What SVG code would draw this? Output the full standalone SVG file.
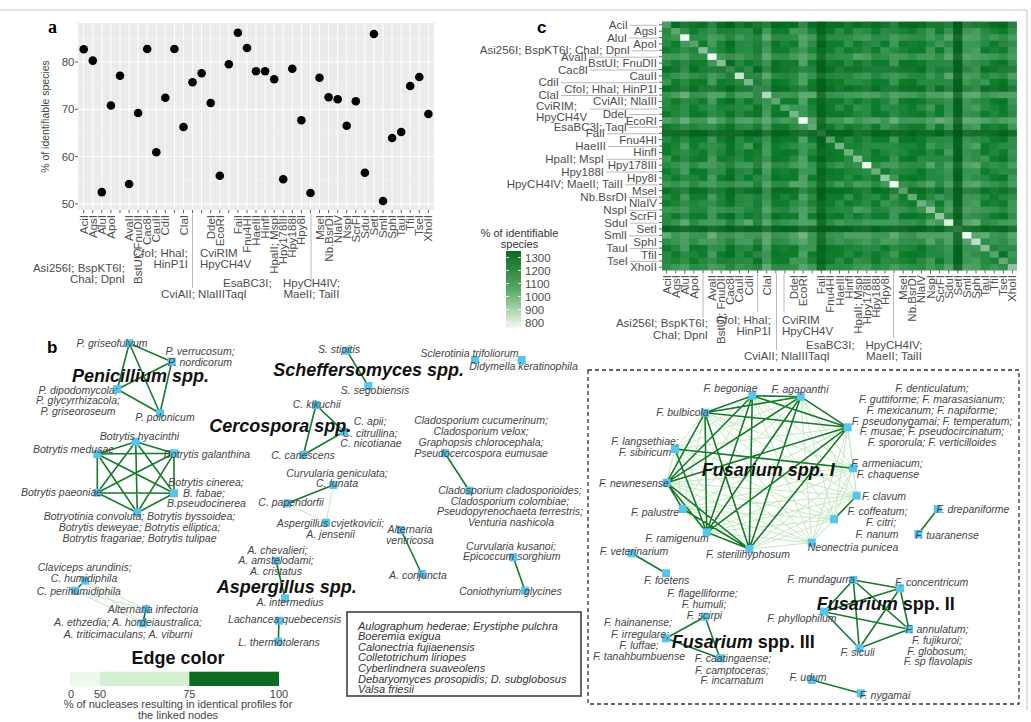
<svg xmlns="http://www.w3.org/2000/svg" width="1031" height="722" viewBox="0 0 1031 722">
<style>
.ax{font-family:"Liberation Sans",Arial,sans-serif;font-size:11.5px;fill:#4d4d4d}
.e{text-anchor:end}
.m{text-anchor:middle}
.lb{font-family:"Liberation Sans",Arial,sans-serif;font-style:italic;font-size:10.5px;fill:#444;text-anchor:middle}
.bx{font-family:"Liberation Sans",Arial,sans-serif;font-style:italic;font-size:11px;fill:#333}
.tt{font-family:"Liberation Sans",Arial,sans-serif;font-weight:bold;font-style:italic;font-size:18px;fill:#111}
.nd{fill:#57c6ee}
.ed{stroke:#167a2a;stroke-width:1.6;fill:none}
.el{stroke:#c4e8c1;stroke-width:1;fill:none}
.tk{stroke:#333;stroke-width:0.8;fill:none}
.ld{stroke:#b0b0b0;stroke-width:0.9;fill:none}
.pl{font-family:"Liberation Sans",Arial,sans-serif;font-weight:bold;font-size:17px;fill:#000}
</style>
<defs>
<pattern id="texA" patternUnits="userSpaceOnUse" width="5" height="3">
<rect x="0" y="0" width="1" height="1" fill="#fff" opacity=".1"/>
<rect x="2" y="0" width="1" height="1" fill="#004a10" opacity=".15"/>
<rect x="4" y="1" width="1" height="1" fill="#fff" opacity=".12"/>
<rect x="1" y="2" width="1" height="1" fill="#fff" opacity=".08"/>
<rect x="3" y="2" width="1" height="1" fill="#004a10" opacity=".1"/>
<rect x="1" y="1" width="1" height="1" fill="#fff" opacity=".05"/>
</pattern>
<pattern id="texB" patternUnits="userSpaceOnUse" width="7" height="4">
<rect x="0" y="1" width="1" height="1" fill="#fff" opacity=".1"/>
<rect x="3" y="0" width="1" height="1" fill="#fff" opacity=".07"/>
<rect x="5" y="2" width="1" height="1" fill="#004a10" opacity=".12"/>
<rect x="2" y="3" width="1" height="1" fill="#fff" opacity=".12"/>
<rect x="6" y="3" width="1" height="1" fill="#fff" opacity=".06"/>
<rect x="4" y="1" width="1" height="1" fill="#004a10" opacity=".08"/>
</pattern>
<linearGradient id="cbar" x1="0" y1="0" x2="0" y2="1">
<stop offset="0" stop-color="#0a6a20"/>
<stop offset="0.5" stop-color="#5aa866"/>
<stop offset="1" stop-color="#f3f9f2"/>
</linearGradient>
</defs>
<rect width="1031" height="722" fill="#fff"/>
<path d="M0 10H1027V710" fill="none" stroke="#c4c4c4" stroke-width="1"/>

<!-- Panel a -->
<g id="panel-a">
<text x="48" y="33" style="font-family:'Liberation Serif',serif;font-weight:bold;font-size:18px">a</text>
<rect x="78" y="23" width="356" height="187" fill="#ebebeb"/>
<path d="M78 38.4H434M78 85.65H434M78 133H434M78 180.3H434" stroke="#f7f7f7" stroke-width="0.5"/>
<path d="M78 62H434M78 109.3H434M78 156.6H434M78 203.9H434" stroke="#fff" stroke-width="1"/>
<path stroke="#fff" stroke-width="1" d="M83.7 23V210M92.8 23V210M101.8 23V210M110.9 23V210M120 23V210M129.1 23V210M138.1 23V210M147.2 23V210M156.3 23V210M165.3 23V210M174.4 23V210M183.5 23V210M192.5 23V210M201.6 23V210M210.7 23V210M219.8 23V210M228.8 23V210M237.9 23V210M247 23V210M256 23V210M265.1 23V210M274.2 23V210M283.2 23V210M292.3 23V210M301.4 23V210M310.5 23V210M319.5 23V210M328.6 23V210M337.7 23V210M346.7 23V210M355.8 23V210M364.9 23V210M373.9 23V210M383 23V210M392.1 23V210M401.2 23V210M410.2 23V210M419.3 23V210M428.4 23V210"/>
<g fill="#000">
<circle cx="83.7" cy="49.2" r="4.3"/><circle cx="92.8" cy="60.6" r="4.3"/><circle cx="101.8" cy="192.1" r="4.3"/><circle cx="110.9" cy="105.5" r="4.3"/><circle cx="120" cy="75.7" r="4.3"/><circle cx="129.1" cy="184" r="4.3"/><circle cx="138.1" cy="113" r="4.3"/><circle cx="147.2" cy="49" r="4.3"/><circle cx="156.3" cy="152.3" r="4.3"/><circle cx="165.3" cy="97.7" r="4.3"/><circle cx="174.4" cy="49" r="4.3"/><circle cx="183.5" cy="127" r="4.3"/><circle cx="192.5" cy="82.3" r="4.3"/><circle cx="201.6" cy="73.3" r="4.3"/><circle cx="210.7" cy="103" r="4.3"/><circle cx="219.8" cy="175.7" r="4.3"/><circle cx="228.8" cy="64.3" r="4.3"/><circle cx="237.9" cy="32.7" r="4.3"/><circle cx="247" cy="48" r="4.3"/><circle cx="256" cy="71.3" r="4.3"/><circle cx="265.1" cy="71.3" r="4.3"/><circle cx="274.2" cy="79.3" r="4.3"/><circle cx="283.2" cy="179.3" r="4.3"/><circle cx="292.3" cy="68.7" r="4.3"/><circle cx="301.4" cy="120.3" r="4.3"/><circle cx="310.5" cy="193" r="4.3"/><circle cx="319.5" cy="77.7" r="4.3"/><circle cx="328.6" cy="97.3" r="4.3"/><circle cx="337.7" cy="99.3" r="4.3"/><circle cx="346.7" cy="125.7" r="4.3"/><circle cx="355.8" cy="101.3" r="4.3"/><circle cx="364.9" cy="172.7" r="4.3"/><circle cx="373.9" cy="34" r="4.3"/><circle cx="383" cy="201" r="4.3"/><circle cx="392.1" cy="138" r="4.3"/><circle cx="401.2" cy="132" r="4.3"/><circle cx="410.2" cy="86" r="4.3"/><circle cx="419.3" cy="77" r="4.3"/><circle cx="428.4" cy="114" r="4.3"/>
</g>
<path class="tk" d="M75 62H78M75 109.3H78M75 156.6H78M75 203.9H78"/>
<path class="tk" d="M83.7 210V213M92.8 210V213M101.8 210V213M110.9 210V213M120 210V213M129.1 210V213M138.1 210V213M147.2 210V213M156.3 210V213M165.3 210V213M174.4 210V213M183.5 210V213M192.5 210V213M201.6 210V213M210.7 210V213M219.8 210V213M228.8 210V213M237.9 210V213M247 210V213M256 210V213M265.1 210V213M274.2 210V213M283.2 210V213M292.3 210V213M301.4 210V213M310.5 210V213M319.5 210V213M328.6 210V213M337.7 210V213M346.7 210V213M355.8 210V213M364.9 210V213M373.9 210V213M383 210V213M392.1 210V213M401.2 210V213M410.2 210V213M419.3 210V213M428.4 210V213"/>
<g class="ax e">
<text x="74.5" y="66">80</text><text x="74.5" y="113.3">70</text><text x="74.5" y="160.6">60</text><text x="74.5" y="207.9">50</text>
</g>
<text class="m" transform="translate(49,116.5) rotate(-90)" style="font-family:'Liberation Sans',sans-serif;font-size:10.5px;fill:#444">% of identifiable species</text>
<g class="ax e">
<text transform="translate(87.7,215) rotate(-90)">AciI</text>
<text transform="translate(96.8,215) rotate(-90)">AgsI</text>
<text transform="translate(105.8,215) rotate(-90)">AluI</text>
<text transform="translate(114.9,215) rotate(-90)">ApoI</text>
<text transform="translate(133.1,215) rotate(-90)">AvaII</text>
<text transform="translate(142.1,215) rotate(-90)">BstUI; FnuDII</text>
<text transform="translate(151.2,215) rotate(-90)">Cac8I</text>
<text transform="translate(160.3,215) rotate(-90)">CauII</text>
<text transform="translate(169.3,215) rotate(-90)">CdiI</text>
<text transform="translate(187.5,215) rotate(-90)">ClaI</text>
<text transform="translate(214.7,215) rotate(-90)">DdeI</text>
<text transform="translate(223.8,215) rotate(-90)">EcoRI</text>
<text transform="translate(241.9,215) rotate(-90)">FaiI</text>
<text transform="translate(251,215) rotate(-90)">Fnu4HI</text>
<text transform="translate(260,215) rotate(-90)">HaeIII</text>
<text transform="translate(269.1,215) rotate(-90)">HinfI</text>
<text transform="translate(278.2,215) rotate(-90)">HpaII; MspI</text>
<text transform="translate(287.2,215) rotate(-90)">Hpy178III</text>
<text transform="translate(296.3,215) rotate(-90)">Hpy188I</text>
<text transform="translate(305.4,215) rotate(-90)">Hpy8I</text>
<text transform="translate(323.5,215) rotate(-90)">MseI</text>
<text transform="translate(332.6,215) rotate(-90)">Nb.BsrDI</text>
<text transform="translate(341.7,215) rotate(-90)">NlaIV</text>
<text transform="translate(350.7,215) rotate(-90)">NspI</text>
<text transform="translate(359.8,215) rotate(-90)">ScrFI</text>
<text transform="translate(368.9,215) rotate(-90)">SduI</text>
<text transform="translate(377.9,215) rotate(-90)">SetI</text>
<text transform="translate(387,215) rotate(-90)">SmlI</text>
<text transform="translate(396.1,215) rotate(-90)">SphI</text>
<text transform="translate(405.2,215) rotate(-90)">TauI</text>
<text transform="translate(414.2,215) rotate(-90)">TfiI</text>
<text transform="translate(423.3,215) rotate(-90)">TseI</text>
<text transform="translate(432.4,215) rotate(-90)">XhoII</text>
</g>
<path class="ld" d="M192.5 214V288M311 214V285"/>
<g class="ax">
<text class="e" x="125" y="272">Asi256I; BspKT6I;</text><text class="e" x="125" y="282.5">ChaI; DpnI</text>
<text class="e" x="188" y="257">CfoI; HhaI;</text><text class="e" x="188" y="267.5">HinP1I</text>
<text x="200" y="257">CviRIM</text><text x="200" y="267.5">HpyCH4V</text>
<text class="m" x="193" y="298">CviAII; NlaIII</text>
<text x="223" y="287">EsaBC3I;</text><text x="225" y="298">TaqI</text>
<text class="m" x="311.5" y="287">HpyCH4IV;</text><text class="m" x="311.5" y="298">MaeII; TaiII</text>
</g>
</g>

<!-- Panel c -->
<g id="panel-c">
<text class="pl" x="537" y="33">c</text>
<g id="heatmap" transform="translate(662,21.6) scale(9.1,6.38)">
<rect width="39" height="39" fill="#0d7d2b"/>
<rect width="39" height="39" fill="url(#texA)"/>
<rect width="39" height="39" fill="url(#texB)"/>
<g fill="#fff">
<rect y="2" width="39" height="1" opacity=".14"/><rect x="2" width="1" height="39" opacity=".14"/>
<rect y="5" width="39" height="1" opacity=".15"/><rect x="5" width="1" height="39" opacity=".15"/>
<rect y="8" width="39" height="1" opacity=".1"/><rect x="8" width="1" height="39" opacity=".1"/>
<rect y="11" width="39" height="1" opacity=".18"/><rect x="11" width="1" height="39" opacity=".18"/>
<rect y="15" width="39" height="1" opacity=".2"/><rect x="15" width="1" height="39" opacity=".2"/>
<rect y="22" width="39" height="1" opacity=".12"/><rect x="22" width="1" height="39" opacity=".12"/>
<rect y="25" width="39" height="1" opacity=".12"/><rect x="25" width="1" height="39" opacity=".12"/>
<rect y="29" width="39" height="1" opacity=".1"/><rect x="29" width="1" height="39" opacity=".1"/>
<rect y="31" width="39" height="1" opacity=".12"/><rect x="31" width="1" height="39" opacity=".12"/>
<rect y="33" width="39" height="1" opacity=".2"/><rect x="33" width="1" height="39" opacity=".2"/>
<rect y="34" width="39" height="1" opacity=".14"/><rect x="34" width="1" height="39" opacity=".14"/>
<rect y="38" width="39" height="1" opacity=".14"/><rect x="38" width="1" height="39" opacity=".14"/>
</g>
<g fill="#004d10">
<rect y="0" width="39" height="1" opacity=".3"/>
<rect y="7" width="39" height="1" opacity=".25"/><rect x="7" width="1" height="39" opacity=".15"/>
<rect y="10" width="39" height="1" opacity=".25"/><rect x="10" width="1" height="39" opacity=".15"/>
<rect y="17" width="39" height="1" opacity=".5"/><rect x="17" width="1" height="39" opacity=".5"/>
<rect y="26" width="39" height="1" opacity=".2"/>
<rect y="32" width="39" height="1" opacity=".5"/><rect x="32" width="1" height="39" opacity=".5"/>
</g>
<g fill="#fff">
<rect x="0" y="0" width="1" height="1" opacity=".25"/><rect x="1" y="1" width="1" height="1" opacity=".3"/>
<rect x="2" y="2" width="1" height="1" opacity=".95"/><rect x="3" y="3" width="1" height="1" opacity=".3"/>
<rect x="4" y="4" width="1" height="1" opacity=".45"/><rect x="5" y="5" width="1" height="1" opacity=".92"/>
<rect x="6" y="6" width="1" height="1" opacity=".5"/><rect x="7" y="7" width="1" height="1" opacity=".2"/>
<rect x="8" y="8" width="1" height="1" opacity=".75"/><rect x="9" y="9" width="1" height="1" opacity=".45"/>
<rect x="10" y="10" width="1" height="1" opacity=".2"/><rect x="11" y="11" width="1" height="1" opacity=".5"/>
<rect x="12" y="12" width="1" height="1" opacity=".35"/><rect x="13" y="13" width="1" height="1" opacity=".3"/>
<rect x="14" y="14" width="1" height="1" opacity=".45"/><rect x="15" y="15" width="1" height="1" opacity=".92"/>
<rect x="16" y="16" width="1" height="1" opacity=".3"/><rect x="17" y="17" width="1" height="1" opacity=".15"/>
<rect x="18" y="18" width="1" height="1" opacity=".3"/><rect x="19" y="19" width="1" height="1" opacity=".35"/>
<rect x="20" y="20" width="1" height="1" opacity=".4"/><rect x="21" y="21" width="1" height="1" opacity=".45"/>
<rect x="22" y="22" width="1" height="1" opacity=".92"/><rect x="23" y="23" width="1" height="1" opacity=".3"/>
<rect x="24" y="24" width="1" height="1" opacity=".55"/><rect x="25" y="25" width="1" height="1" opacity=".92"/>
<rect x="26" y="26" width="1" height="1" opacity=".3"/><rect x="27" y="27" width="1" height="1" opacity=".35"/>
<rect x="28" y="28" width="1" height="1" opacity=".4"/><rect x="29" y="29" width="1" height="1" opacity=".45"/>
<rect x="30" y="30" width="1" height="1" opacity=".5"/><rect x="31" y="31" width="1" height="1" opacity=".8"/>
<rect x="32" y="32" width="1" height="1" opacity=".2"/><rect x="33" y="33" width="1" height="1" opacity=".95"/>
<rect x="34" y="34" width="1" height="1" opacity=".6"/><rect x="35" y="35" width="1" height="1" opacity=".5"/>
<rect x="36" y="36" width="1" height="1" opacity=".3"/><rect x="37" y="37" width="1" height="1" opacity=".35"/>
<rect x="38" y="38" width="1" height="1" opacity=".4"/>
</g>
</g>
<path class="tk" d="M659 24.8H662M659 31.2H662M659 37.6H662M659 43.9H662M659 50.3H662M659 56.7H662M659 63.1H662M659 69.5H662M659 75.8H662M659 82.2H662M659 88.6H662M659 95H662M659 101.4H662M659 107.7H662M659 114.1H662M659 120.5H662M659 126.9H662M659 133.3H662M659 139.6H662M659 146H662M659 152.4H662M659 158.8H662M659 165.2H662M659 171.5H662M659 177.9H662M659 184.3H662M659 190.7H662M659 197.1H662M659 203.4H662M659 209.8H662M659 216.2H662M659 222.6H662M659 229H662M659 235.3H662M659 241.7H662M659 248.1H662M659 254.5H662M659 260.9H662M659 267.2H662"/>
<path class="tk" d="M666.6 270.4V273.4M675.7 270.4V273.4M684.8 270.4V273.4M693.9 270.4V273.4M703 270.4V273.4M712.1 270.4V273.4M721.2 270.4V273.4M730.3 270.4V273.4M739.4 270.4V273.4M748.5 270.4V273.4M757.6 270.4V273.4M766.7 270.4V273.4M775.8 270.4V273.4M784.9 270.4V273.4M794 270.4V273.4M803.1 270.4V273.4M812.2 270.4V273.4M821.3 270.4V273.4M830.4 270.4V273.4M839.5 270.4V273.4M848.6 270.4V273.4M857.7 270.4V273.4M866.8 270.4V273.4M875.9 270.4V273.4M885 270.4V273.4M894.1 270.4V273.4M903.2 270.4V273.4M912.3 270.4V273.4M921.4 270.4V273.4M930.5 270.4V273.4M939.6 270.4V273.4M948.7 270.4V273.4M957.8 270.4V273.4M966.9 270.4V273.4M976 270.4V273.4M985.1 270.4V273.4M994.2 270.4V273.4M1003.3 270.4V273.4M1012.4 270.4V273.4"/>
<path class="ld" d="M630 25.3H658M629 38.1H658M632 50.8H658M589 57.2H658M590 70H658M561 82.7H658M561 95.5H658M590 109H658M629 114.6H658M629 127.4H658M607 133.8H658M608 146.5H658M606 159.3H658M606 172H658M625 184.8H658M629 197.6H658M629 210.3H658M630 223.1H658M629 235.8H658M630 248.6H658M630 261.4H658"/>
<g class="ax e">
<text x="657" y="35.2">AgsI</text><text x="657" y="47.9">ApoI</text><text x="657" y="67.1">BstUI; FnuDII</text><text x="657" y="79.8">CauII</text><text x="657" y="92.6">CfoI; HhaI; HinP1I</text><text x="657" y="105.4">CviAII; NlaIII</text><text x="657" y="124.5">EcoRI</text><text x="657" y="143.6">Fnu4HI</text><text x="657" y="156.4">HinfI</text><text x="657" y="169.2">Hpy178III</text><text x="657" y="181.9">Hpy8I</text><text x="657" y="194.7">MseI</text><text x="657" y="207.4">NlaIV</text><text x="657" y="220.2">ScrFI</text><text x="657" y="233">SetI</text><text x="657" y="245.7">SphI</text><text x="657" y="258.5">TfiI</text><text x="657" y="271.2">XhoII</text>
<text x="628" y="28.8">AciI</text><text x="627" y="41.6">AluI</text><text x="630" y="54.3">Asi256I; BspKT6I; ChaI; DpnI</text><text x="587" y="60.7">AvaII</text><text x="588" y="73.5">Cac8I</text><text x="559" y="86.2">CdiI</text><text x="559" y="99">ClaI</text><text x="627" y="118.1">DdeI</text><text x="627" y="130.9">EsaBC3I; TaqI</text><text x="605" y="137.3">FaiI</text><text x="606" y="150">HaeIII</text><text x="604" y="162.8">HpaII; MspI</text><text x="604" y="175.5">Hpy188I</text><text x="623" y="188.3">HpyCH4IV; MaeII; TaiII</text><text x="627" y="201.1">Nb.BsrDI</text><text x="627" y="213.8">NspI</text><text x="628" y="226.6">SduI</text><text x="627" y="239.3">SmlI</text><text x="628" y="252.1">TauI</text><text x="628" y="264.9">TseI</text>
</g>
<g class="ax"><text x="536" y="110">CviRIM;</text><text x="536" y="120.5">HpyCH4V</text></g>
<g class="ax e">
<text transform="translate(670.6,275) rotate(-90)">AciI</text>
<text transform="translate(679.7,275) rotate(-90)">AgsI</text>
<text transform="translate(688.8,275) rotate(-90)">AluI</text>
<text transform="translate(697.9,275) rotate(-90)">ApoI</text>
<text transform="translate(716.1,275) rotate(-90)">AvaII</text>
<text transform="translate(725.2,275) rotate(-90)">BstUI; FnuDII</text>
<text transform="translate(734.3,275) rotate(-90)">Cac8I</text>
<text transform="translate(743.4,275) rotate(-90)">CauII</text>
<text transform="translate(752.5,275) rotate(-90)">CdiI</text>
<text transform="translate(770.7,275) rotate(-90)">ClaI</text>
<text transform="translate(798,275) rotate(-90)">DdeI</text>
<text transform="translate(807.1,275) rotate(-90)">EcoRI</text>
<text transform="translate(825.3,275) rotate(-90)">FaiI</text>
<text transform="translate(834.4,275) rotate(-90)">Fnu4HI</text>
<text transform="translate(843.5,275) rotate(-90)">HaeIII</text>
<text transform="translate(852.6,275) rotate(-90)">HinfI</text>
<text transform="translate(861.7,275) rotate(-90)">HpaII; MspI</text>
<text transform="translate(870.8,275) rotate(-90)">Hpy178III</text>
<text transform="translate(879.9,275) rotate(-90)">Hpy188I</text>
<text transform="translate(889,275) rotate(-90)">Hpy8I</text>
<text transform="translate(907.2,275) rotate(-90)">MseI</text>
<text transform="translate(916.3,275) rotate(-90)">Nb.BsrDI</text>
<text transform="translate(925.4,275) rotate(-90)">NlaIV</text>
<text transform="translate(934.5,275) rotate(-90)">NspI</text>
<text transform="translate(943.6,275) rotate(-90)">ScrFI</text>
<text transform="translate(952.7,275) rotate(-90)">SduI</text>
<text transform="translate(961.8,275) rotate(-90)">SetI</text>
<text transform="translate(970.9,275) rotate(-90)">SmlI</text>
<text transform="translate(980,275) rotate(-90)">SphI</text>
<text transform="translate(989.1,275) rotate(-90)">TauI</text>
<text transform="translate(998.2,275) rotate(-90)">TfiI</text>
<text transform="translate(1007.3,275) rotate(-90)">TseI</text>
<text transform="translate(1016.4,275) rotate(-90)">XhoII</text>
</g>
<path class="ld" d="M703 274V318M757.6 274V312M776.5 274V350M784 274V312M893.5 274V338"/>
<g class="ax">
<text class="e" x="708" y="327">Asi256I; BspKT6I;</text><text class="e" x="708" y="339">ChaI; DpnI</text>
<text class="e" x="771" y="324">CfoI; HhaI;</text><text class="e" x="771" y="334.5">HinP1I</text>
<text x="782" y="324">CviRIM</text><text x="782" y="334.5">HpyCH4V</text>
<text class="m" x="776" y="360">CviAII; NlaIII</text>
<text x="806" y="349">EsaBC3I;</text><text x="808" y="360">TaqI</text>
<text class="m" x="894" y="349">HpyCH4IV;</text><text class="m" x="894" y="360">MaeII; TaiII</text>
</g>
<g id="legend-c">
<text x="519.5" y="237" class="m" style="font-family:'Liberation Sans',sans-serif;font-size:11px;fill:#333">% of identifiable</text>
<text x="519.5" y="248" class="m" style="font-family:'Liberation Sans',sans-serif;font-size:11px;fill:#333">species</text>
<rect x="506" y="251" width="15" height="77" fill="url(#cbar)"/>
<path d="M506 257.5H509M518 257.5H521M506 270.5H509M518 270.5H521M506 283.5H509M518 283.5H521M506 296.5H509M518 296.5H521M506 309.5H509M518 309.5H521M506 322.5H509M518 322.5H521" stroke="#fff" stroke-width="0.8"/>
<g class="ax"><text x="525" y="261.5">1300</text><text x="525" y="274.5">1200</text><text x="525" y="287.5">1100</text><text x="525" y="300.5">1000</text><text x="525" y="313.5">900</text><text x="525" y="326.5">800</text></g>
</g>
</g>

<!-- Panel b -->
<g id="panel-b">
<text class="pl" x="47" y="353">b</text>
<rect x="588" y="370" width="431" height="334" fill="none" stroke="#333" stroke-width="1.3" stroke-dasharray="4 3"/>
<rect x="347" y="612" width="234" height="84" fill="#fff" stroke="#333" stroke-width="1.5"/>
<g id="connectors">
<path class="el" d="M475 360L521.7 360M287.3 503.3L326 522.7M333.3 485L326 522.7M85 580.7L146 609.3M85 580.7L142.7 623.3M75 590.7L146 609.3M75 590.7L142.7 623.3"/>
<path class="el" d="M752.3 395.7L675 449M752.3 395.7L853.3 468.3M752.3 395.7L856.7 495.7M752.3 395.7L682.7 509M752.3 395.7L834 519.3M752.3 395.7L811.7 542.7M800.7 396.7L675 449M800.7 396.7L853.3 468.3M800.7 396.7L856.7 495.7M800.7 396.7L682.7 509M800.7 396.7L834 519.3M800.7 396.7L811.7 542.7M705 412.7L675 449M705 412.7L853.3 468.3M705 412.7L856.7 495.7M705 412.7L682.7 509M705 412.7L834 519.3M705 412.7L811.7 542.7M847.7 427.3L675 449M847.7 427.3L853.3 468.3M847.7 427.3L856.7 495.7M847.7 427.3L682.7 509M847.7 427.3L834 519.3M847.7 427.3L811.7 542.7M675 449L666.7 482.7M675 449L856.7 495.7M675 449L682.7 509M675 449L834 519.3M675 449L811.7 542.7M675 449L749.3 549M853.3 468.3L666.7 482.7M853.3 468.3L856.7 495.7M853.3 468.3L682.7 509M853.3 468.3L834 519.3M853.3 468.3L706.7 532.3M853.3 468.3L811.7 542.7M853.3 468.3L749.3 549M666.7 482.7L856.7 495.7M666.7 482.7L834 519.3M666.7 482.7L811.7 542.7M856.7 495.7L682.7 509M856.7 495.7L706.7 532.3M856.7 495.7L811.7 542.7M856.7 495.7L749.3 549M682.7 509L834 519.3M682.7 509L706.7 532.3M682.7 509L811.7 542.7M834 519.3L706.7 532.3M834 519.3L811.7 542.7M834 519.3L749.3 549M706.7 532.3L811.7 542.7M811.7 542.7L749.3 549"/>
<path class="ed" d="M129.3 343.3L171.7 361.7M129.3 343.3L117.3 389.3M129.3 343.3L160 413.3M171.7 361.7L117.3 389.3M171.7 361.7L160 413.3M117.3 389.3L160 413.3"/>
<path class="ed" d="M135.7 441.7L97.3 454M135.7 441.7L174 453.3M135.7 441.7L97.3 492.7M135.7 441.7L174 493.3M135.7 441.7L137.3 512.7M97.3 454L174 453.3M97.3 454L97.3 492.7M97.3 454L174 493.3M97.3 454L137.3 512.7M174 453.3L97.3 492.7M174 453.3L174 493.3M174 453.3L137.3 512.7M97.3 492.7L174 493.3M97.3 492.7L137.3 512.7M174 493.3L137.3 512.7"/>
<path class="ed" d="M346.7 350.7L368.3 386M316 405L344 431.7M316 405L303.3 455M344 431.7L303.3 455M445 453.3L469.3 490.7M333.3 485L287.3 503.3M401 530L421.7 574M513.3 557.3L525 590.7M276 560.7L285 598.3M279 620.7L278.3 641.7M85 580.7L75 590.7M146 609.3L142.7 623.3"/>
<path class="ed" d="M752.3 395.7L800.7 396.7M752.3 395.7L705 412.7M752.3 395.7L847.7 427.3M752.3 395.7L666.7 482.7M752.3 395.7L706.7 532.3M752.3 395.7L749.3 549M800.7 396.7L705 412.7M800.7 396.7L847.7 427.3M800.7 396.7L666.7 482.7M800.7 396.7L706.7 532.3M800.7 396.7L749.3 549M705 412.7L847.7 427.3M705 412.7L666.7 482.7M705 412.7L706.7 532.3M705 412.7L749.3 549M847.7 427.3L666.7 482.7M847.7 427.3L706.7 532.3M847.7 427.3L749.3 549M666.7 482.7L706.7 532.3M666.7 482.7L749.3 549M706.7 532.3L749.3 549M675 449L853.3 468.3M675 449L706.7 532.3M666.7 482.7L682.7 509M682.7 509L749.3 549M856.7 495.7L834 519.3"/>
<path class="ed" d="M937.7 509L918.3 534M631.7 553.3L666 573.3M705 616.7L666 638.3M705 616.7L720 658.3M666 638.3L720 658.3M853.3 580L900 588.3M853.3 580L824 611.7M853.3 580L909 629.3M853.3 580L859.3 648.3M900 588.3L824 611.7M900 588.3L909 629.3M900 588.3L859.3 648.3M824 611.7L909 629.3M824 611.7L859.3 648.3M909 629.3L859.3 648.3M811.7 680L860.7 693.3"/>
</g>

<g id="n-pgriseofulvum"><rect class="nd" x="125.3" y="339.3" width="8" height="8"/><text class="lb" x="112" y="346.8">P. griseofulvum</text></g>
<g id="n-pverrucosum"><rect class="nd" x="167.7" y="357.7" width="8" height="8"/><text class="lb" x="200" y="355.2">P. verrucosum;</text><text class="lb" x="200" y="365.8">P. nordicorum</text></g>
<g id="n-pdipodomycola"><rect class="nd" x="113.3" y="385.3" width="8" height="8"/><text class="lb" x="78" y="393.5">P. dipodomycola;</text><text class="lb" x="78" y="404.2">P. glycyrrhizacola;</text><text class="lb" x="78" y="414.8">P. griseoroseum</text></g>
<g id="n-ppolonicum"><rect class="nd" x="156" y="409.3" width="8" height="8"/><text class="lb" x="165" y="421.2">P. polonicum</text></g>
<text class="tt" x="72" y="382">Penicillium spp.</text>

<g id="n-bhyacinthi"><rect class="nd" x="131.7" y="437.7" width="8" height="8"/><text class="lb" x="139.5" y="439.5">Botrytis hyacinthi</text></g>
<g id="n-bmedusae"><rect class="nd" x="93.3" y="450" width="8" height="8"/><text class="lb" x="73.5" y="452.8">Botrytis medusae</text></g>
<g id="n-bgalanthina"><rect class="nd" x="170" y="449.3" width="8" height="8"/><text class="lb" x="207" y="457.5">Botrytis galanthina</text></g>
<g id="n-bpaeoniae"><rect class="nd" x="93.3" y="488.7" width="8" height="8"/><text class="lb" x="61.5" y="496.2">Botrytis paeoniae</text></g>
<g id="n-bcinerea"><rect class="nd" x="170" y="489.3" width="8" height="8"/><text class="lb" x="206" y="486.2">Botrytis cinerea;</text><text class="lb" x="204" y="496.8">B. fabae;</text><text class="lb" x="206.5" y="507">B.pseudocinerea</text></g>
<g id="n-bconvoluta"><rect class="nd" x="133.3" y="508.7" width="8" height="8"/><text class="lb" x="139.5" y="520.2">Botryotinia convoluta; Botrytis byssoidea;</text><text class="lb" x="139.5" y="530.8">Botrytis deweyae; Botrytis elliptica;</text><text class="lb" x="139.5" y="541.5">Botrytis fragariae; Botrytis tulipae</text></g>

<g id="n-sstipitis"><rect class="nd" x="342.7" y="346.7" width="8" height="8"/><text class="lb" x="339" y="352.8">S. stipitis</text></g>
<g id="n-ssegobiensis"><rect class="nd" x="364.3" y="382" width="8" height="8"/><text class="lb" x="375" y="393.5">S. segobiensis</text></g>
<text class="tt" x="273.3" y="375.5">Scheffersomyces spp.</text>

<g id="n-sclerotinia"><rect class="nd" x="471" y="356" width="8" height="8"/><text class="lb" x="469.5" y="356.8">Sclerotinia trifoliorum</text></g>
<g id="n-didymella"><rect class="nd" x="517.7" y="356" width="8" height="8"/><text class="lb" x="523.5" y="370.2">Didymella keratinophila</text></g>

<g id="n-ckikuchii"><rect class="nd" x="312" y="401" width="8" height="8"/><text class="lb" x="316.7" y="407.5">C. kikuchii</text></g>
<g id="n-capii"><rect class="nd" x="340" y="427.7" width="8" height="8"/><text class="lb" x="370" y="424.5">C. apii;</text><text class="lb" x="370" y="436.8">C. citrullina;</text><text class="lb" x="371" y="446.8">C. nicotianae</text></g>
<g id="n-ccanescens"><rect class="nd" x="299.3" y="451" width="8" height="8"/><text class="lb" x="303" y="458.5">C. canescens</text></g>
<text class="tt" x="209.3" y="432">Cercospora spp.</text>

<g id="n-cladocucumerinum"><rect class="nd" x="441" y="449.3" width="8" height="8"/><text class="lb" x="481" y="424.2">Cladosporium cucumerinum;</text><text class="lb" x="481" y="435.2">Cladosporium velox;</text><text class="lb" x="481" y="446.2">Graphopsis chlorocephala;</text><text class="lb" x="481" y="456.8">Pseudocercospora eumusae</text></g>
<g id="n-cladocladosporioides"><rect class="nd" x="465.3" y="486.7" width="8" height="8"/><text class="lb" x="510" y="493.5">Cladosporium cladosporioides;</text><text class="lb" x="510" y="504.5">Cladosporium colombiae;</text><text class="lb" x="510" y="515.2">Pseudopyrenochaeta terrestris;</text><text class="lb" x="511" y="525.8">Venturia nashicola</text></g>

<g id="n-clunata"><rect class="nd" x="329.3" y="481" width="8" height="8"/><text class="lb" x="337" y="476.8">Curvularia geniculata;</text><text class="lb" x="337" y="486.8">C. lunata</text></g>
<g id="n-cpapendorfii"><rect class="nd" x="283.3" y="499.3" width="8" height="8"/><text class="lb" x="291" y="505.8">C. papendorfii</text></g>
<g id="n-acvjetkovicii"><rect class="nd" x="322" y="518.7" width="8" height="8"/><text class="lb" x="330.5" y="526.8">Aspergillus cvjetkovicii;</text><text class="lb" x="330.5" y="537.5">A. jensenii</text></g>

<g id="n-aventricosa"><rect class="nd" x="397" y="526" width="8" height="8"/><text class="lb" x="410" y="532.8">Alternaria</text><text class="lb" x="410" y="543.5">ventricosa</text></g>
<g id="n-aconjuncta"><rect class="nd" x="417.7" y="570" width="8" height="8"/><text class="lb" x="418" y="579.2">A. conjuncta</text></g>

<g id="n-ckusanoi"><rect class="nd" x="509.3" y="553.3" width="8" height="8"/><text class="lb" x="511" y="549.5">Curvularia kusanoi;</text><text class="lb" x="511.7" y="560.2">Epicoccum sorghium</text></g>
<g id="n-cglycines"><rect class="nd" x="521" y="586.7" width="8" height="8"/><text class="lb" x="510.5" y="595.2">Coniothyrium glycines</text></g>

<g id="n-achevalieri"><rect class="nd" x="272" y="556.7" width="8" height="8"/><text class="lb" x="277.5" y="553.5">A. chevalieri;</text><text class="lb" x="276" y="564.2">A. amstelodami;</text><text class="lb" x="276" y="575.2">A. cristatus</text></g>
<g id="n-aintermedius"><rect class="nd" x="281" y="594.3" width="8" height="8"/><text class="lb" x="290" y="605.8">A. intermedius</text></g>
<text class="tt" x="216.7" y="593">Aspergillus spp.</text>

<g id="n-lquebecensis"><rect class="nd" x="275" y="616.7" width="8" height="8"/><text class="lb" x="284.7" y="622.8">Lachancea quebecensis</text></g>
<g id="n-lthermotolerans"><rect class="nd" x="274.3" y="637.7" width="8" height="8"/><text class="lb" x="279" y="645.8">L. thermotolerans</text></g>

<g id="n-carundinis"><rect class="nd" x="81" y="576.7" width="8" height="8"/><text class="lb" x="84.7" y="570.8">Claviceps arundinis;</text><text class="lb" x="84" y="581.8">C. humidiphila</text></g>
<g id="n-cperihumidiphila"><rect class="nd" x="71" y="586.7" width="8" height="8"/><text class="lb" x="78.8" y="595.2">C. perihumidiphila</text></g>
<g id="n-ainfectoria"><rect class="nd" x="142" y="605.3" width="8" height="8"/><text class="lb" x="153" y="612.8">Alternaria infectoria</text></g>
<g id="n-aethzedia"><rect class="nd" x="138.7" y="619.3" width="8" height="8"/><text class="lb" x="128" y="626.2">A. ethzedia; A. hordeiaustralica;</text><text class="lb" x="128" y="637.8">A. triticimaculans; A. viburni</text></g>

<g id="n-fbegoniae"><rect class="nd" x="748.3" y="391.7" width="8" height="8"/><text class="lb" x="730.5" y="391.8">F. begoniae</text></g>
<g id="n-fagapanthi"><rect class="nd" x="796.7" y="392.7" width="8" height="8"/><text class="lb" x="800" y="392.8">F. agapanthi</text></g>
<g id="n-fbulbicola"><rect class="nd" x="701" y="408.7" width="8" height="8"/><text class="lb" x="682.5" y="416.2">F. bulbicola</text></g>
<g id="n-fdenticulatum"><rect class="nd" x="843.7" y="423.3" width="8" height="8"/><text class="lb" x="932" y="391.8">F. denticulatum;</text><text class="lb" x="932" y="402.8">F. guttiforme; F. marasasianum;</text><text class="lb" x="932" y="413.5">F. mexicanum; F. napiforme;</text><text class="lb" x="932" y="424.5">F. pseudonygamai; F. temperatum;</text><text class="lb" x="932" y="435.2">F. musae; F. pseudocircinatum;</text><text class="lb" x="932" y="445.8">F. spororula; F. verticilloides</text></g>
<g id="n-flangsethiae"><rect class="nd" x="671" y="445" width="8" height="8"/><text class="lb" x="645" y="445.2">F. langsethiae;</text><text class="lb" x="645" y="455.8">F. sibiricum</text></g>
<g id="n-farmeniacum"><rect class="nd" x="849.3" y="464.3" width="8" height="8"/><text class="lb" x="887" y="466.8">F. armeniacum;</text><text class="lb" x="888" y="477.5">F. chaquense</text></g>
<g id="n-fnewnesense"><rect class="nd" x="662.7" y="478.7" width="8" height="8"/><text class="lb" x="634" y="486.8">F. newnesense</text></g>
<g id="n-fclavum"><rect class="nd" x="852.7" y="491.7" width="8" height="8"/><text class="lb" x="884" y="500.2">F. clavum</text></g>
<g id="n-fpalustre"><rect class="nd" x="678.7" y="505" width="8" height="8"/><text class="lb" x="655" y="515.8">F. palustre</text></g>
<g id="n-fcoffeatum"><rect class="nd" x="830" y="515.3" width="8" height="8"/><text class="lb" x="877.5" y="515.2">F. coffeatum;</text><text class="lb" x="881" y="526.2">F. citri;</text><text class="lb" x="877" y="537.5">F. nanum</text></g>
<g id="n-framigenum"><rect class="nd" x="702.7" y="528.3" width="8" height="8"/><text class="lb" x="677" y="541.8">F. ramigenum</text></g>
<g id="n-npunicea"><rect class="nd" x="807.7" y="538.7" width="8" height="8"/><text class="lb" x="853" y="551.2">Neonectria punicea</text></g>
<g id="n-fsterilihyphosum"><rect class="nd" x="745.3" y="545" width="8" height="8"/><text class="lb" x="748" y="557.8">F. sterilihyphosum</text></g>
<text class="tt" x="701.7" y="475.5">Fusarium spp. I</text>

<g id="n-fdrepaniforme"><rect class="nd" x="933.7" y="505" width="8" height="8"/><text class="lb" x="973" y="512.8">F. drepaniforme</text></g>
<g id="n-ftuaranense"><rect class="nd" x="914.3" y="530" width="8" height="8"/><text class="lb" x="947" y="538.5">F. tuaranense</text></g>
<g id="n-fveterinarium"><rect class="nd" x="627.7" y="549.3" width="8" height="8"/><text class="lb" x="634" y="554.5">F. veterinarium</text></g>
<g id="n-ffoetens"><rect class="nd" x="662" y="569.3" width="8" height="8"/><text class="lb" x="666.7" y="583.5">F. foetens</text></g>

<g id="n-fflagelliforme"><rect class="nd" x="701" y="612.7" width="8" height="8"/><text class="lb" x="702.5" y="596.8">F. flagelliforme;</text><text class="lb" x="704" y="607.5">F. humuli;</text><text class="lb" x="704.5" y="618.5">F. scirpi</text></g>
<g id="n-fhainanense"><rect class="nd" x="662" y="634.3" width="8" height="8"/><text class="lb" x="638" y="626.2">F. hainanense;</text><text class="lb" x="640" y="637.5">F. irregulare;</text><text class="lb" x="639" y="648.5">F. luffae;</text><text class="lb" x="639" y="659.5">F. tanahbumbuense</text></g>
<g id="n-fcaatingaense"><rect class="nd" x="716" y="654.3" width="8" height="8"/><text class="lb" x="733" y="661.8">F. caatingaense;</text><text class="lb" x="732" y="673.5">F. camptoceras;</text><text class="lb" x="732" y="684.2">F. incarnatum</text></g>
<text class="tt" x="671.7" y="647.5">Fusarium<tspan font-style="normal"> spp. III</tspan></text>

<g id="n-fmundagurra"><rect class="nd" x="849.3" y="576" width="8" height="8"/><text class="lb" x="821" y="582.8">F. mundagurra</text></g>
<g id="n-fconcentricum"><rect class="nd" x="896" y="584.3" width="8" height="8"/><text class="lb" x="931.7" y="585.8">F. concentricum</text></g>
<g id="n-fphyllophilum"><rect class="nd" x="820" y="607.7" width="8" height="8"/><text class="lb" x="802" y="621.8">F. phyllophilum</text></g>
<g id="n-fannulatum"><rect class="nd" x="905" y="625.3" width="8" height="8"/><text class="lb" x="937" y="632.8">F. annulatum;</text><text class="lb" x="937" y="643.5">F. fujikuroi;</text><text class="lb" x="937" y="654.5">F. globosum;</text><text class="lb" x="938" y="665.2">F. sp flavolapis</text></g>
<g id="n-fsiculi"><rect class="nd" x="855.3" y="644.3" width="8" height="8"/><text class="lb" x="857.5" y="656.2">F. siculi</text></g>
<text class="tt" x="816.7" y="610">Fusarium<tspan font-style="normal"> spp. II</tspan></text>

<g id="n-fudum"><rect class="nd" x="807.7" y="676" width="8" height="8"/><text class="lb" x="808" y="680.8">F. udum</text></g>
<g id="n-fnygamai"><rect class="nd" x="856.7" y="689.3" width="8" height="8"/><text class="lb" x="885" y="698.5">F. nygamai</text></g>

<g id="singletons" class="bx">
<text x="358" y="629.5">Aulographum hederae; Erystiphe pulchra</text>
<text x="358" y="640">Boeremia exigua</text>
<text x="358" y="650.6">Calonectria fujiaenensis</text>
<text x="358" y="661.2">Colletotrichum liriopes</text>
<text x="358" y="672">Cyberlindnera suaveolens</text>
<text x="358" y="683">Debaryomyces prosopidis; D. subglobosus</text>
<text x="358" y="693.2">Valsa friesii</text>
</g>

<g id="legend-b">
<text x="178" y="663.5" class="m" style="font-family:'Liberation Sans',sans-serif;font-weight:bold;font-size:18px;fill:#111">Edge color</text>
<rect x="70" y="671.7" width="30" height="14.3" fill="#edf8ea"/>
<rect x="100" y="671.7" width="89.3" height="14.3" fill="#d4efd2"/>
<rect x="189.3" y="671.7" width="89.7" height="14.3" fill="#0b6b20"/>
<g style="font-family:'Liberation Sans',sans-serif;font-size:11px;fill:#444" class="m">
<text x="71" y="697.5">0</text><text x="100" y="697.5">50</text><text x="189.3" y="697.5">75</text><text x="279" y="697.5">100</text>
<text x="178" y="708">% of nucleases resulting in identical profiles for</text>
<text x="178" y="718.5">the linked nodes</text>
</g>
</g>
</g>
</svg>
